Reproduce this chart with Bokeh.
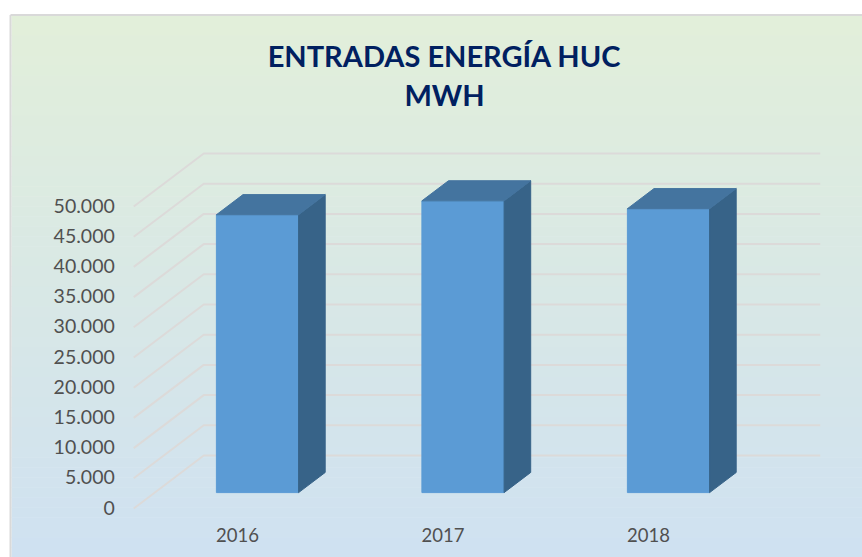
from bokeh.plotting import figure
from bokeh.models import Range1d
from bokeh.core.properties import value
from bokeh.embed import file_html
from bokeh.resources import INLINE

categories = ["2016", "2017", "2018"]
entradas_mwh = [46000, 48300, 47000]
y_ticks = [0, 5000, 10000, 15000, 20000, 25000, 30000, 35000, 40000, 45000, 50000]
y_tick_labels = ["0", "5.000", "10.000", "15.000", "20.000", "25.000", "30.000", "35.000", "40.000", "45.000", "50.000"]
title_lines = ["ENTRADAS ENERGÍA HUC", "MWH"]

W, H = 862, 557
PX_PER_CAT = 205.5
PX_PER_MWH = 30.2 / 5000
x0_page = 236.0   # x of category 0
y0_page = 508.0   # y of value 0

def px(page_x):
    return (page_x - x0_page) / PX_PER_CAT

def py(page_y):
    return (y0_page - page_y) / PX_PER_MWH

DEPTH_X = 70 / PX_PER_CAT      # full floor depth, in category units
DEPTH_Y = 53 / PX_PER_MWH      # full floor depth, in MWh

def proj(x, v, d):
    return x + d * DEPTH_X, v + d * DEPTH_Y

p = figure(width=W, height=H, output_backend="svg", toolbar_location=None,
           x_range=Range1d(px(0), px(W)), y_range=Range1d(py(H), py(0)),
           min_border=0, min_border_left=0, min_border_right=0, min_border_top=0, min_border_bottom=0,
           outline_line_color=None, background_fill_color="white", border_fill_color="white")
p.axis.visible = False
p.grid.visible = False

# panel gradient
top_rgb = (226, 239, 218)
bot_rgb = (207, 225, 241)
n = 54
y_t, y_b = 15.0, 557.0
lefts, rights, tops, bots, cols = [], [], [], [], []
for i in range(n):
    f = i / (n - 1)
    c = tuple(round(a + (b - a) * f) for a, b in zip(top_rgb, bot_rgb))
    lefts.append(px(11)); rights.append(px(862))
    tops.append(py(y_t + (y_b - y_t) * i / n))
    bots.append(py(y_t + (y_b - y_t) * (i + 1) / n + 0.5))
    cols.append("#%02x%02x%02x" % c)
p.quad(left=lefts, right=rights, top=tops, bottom=bots, fill_color=cols, line_color=None)
# panel border
p.line([px(10), px(10)], [py(557), py(14.5)], line_color="#d9d9d9", line_width=2)
p.line([px(10), px(862)], [py(14.5), py(14.5)], line_color="#d9d9d9", line_width=2)

# gridlines: left wall diagonal + back wall
n_cat = len(categories)
xl, xr = -0.5, n_cat - 0.5
for v in y_ticks:
    a = proj(xl, v, 0)
    b = proj(xl, v, 1)
    c = proj(xr, v, 1)
    p.line([a[0], b[0], c[0]], [a[1], b[1], c[1]], line_color="#dcdad9", line_width=2)

# 3D bars
half = 0.2
d0, d1 = 0.3, 0.68
for i, val in enumerate(entradas_mwh):
    fl, fr = i - half, i + half
    x = [proj(fl, 0, d0), proj(fr, 0, d0), proj(fr, val, d0), proj(fl, val, d0)]
    p.patch([q[0] for q in x], [q[1] for q in x], fill_color="#5b9bd5", line_color="#5b9bd5", line_width=1)
    x = [proj(fr, 0, d0), proj(fr, 0, d1), proj(fr, val, d1), proj(fr, val, d0)]
    p.patch([q[0] for q in x], [q[1] for q in x], fill_color="#376388", line_color="#376388", line_width=1)
    x = [proj(fl, val, d0), proj(fr, val, d0), proj(fr, val, d1), proj(fl, val, d1)]
    p.patch([q[0] for q in x], [q[1] for q in x], fill_color="#44749f", line_color="#44749f", line_width=1)

# tick labels
p.text([xl] * len(y_ticks), y_ticks, text=y_tick_labels, x_offset=-19, y_offset=-1,
       text_align="right", text_baseline="middle", text_color="#505050",
       text_font=value("Lato"), text_font_size="19.5px")
p.text(list(range(n_cat)), [0] * n_cat, text=categories, y_offset=26, x_offset=1,
       text_align="center", text_baseline="middle", text_color="#505050",
       text_font=value("Lato"), text_font_size="18.5px")

# title
for line, yy in zip(title_lines, [55, 94]):
    p.text([px(444)], [py(yy)], text=[line], text_align="center", text_baseline="middle",
           text_color="#002060", text_font=value("Lato"), text_font_style="bold", text_font_size="29px")

open("out.html", "w").write(file_html(p, INLINE))
